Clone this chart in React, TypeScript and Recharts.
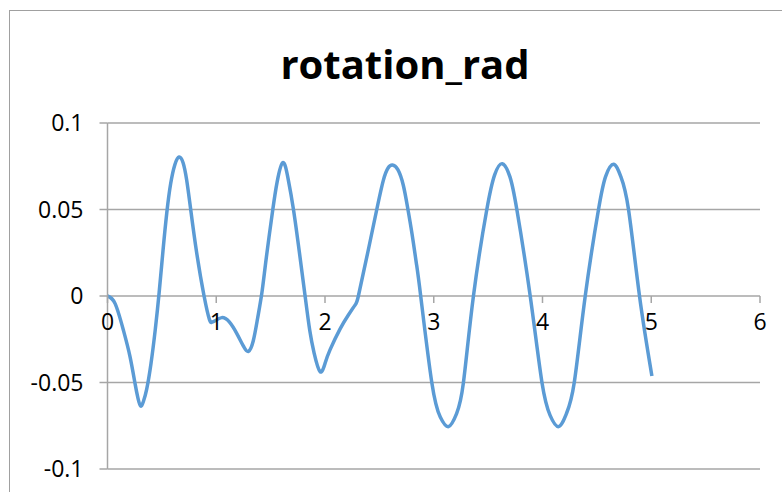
import { LineChart, Line, XAxis, YAxis, CartesianGrid } from "recharts";

// (time, rotation in rad)
const TIMES = [
  0, 0.07, 0.146, 0.207, 0.253, 0.28, 0.305, 0.33, 0.36, 0.4, 0.44, 0.475, 0.51, 0.545, 0.581, 0.62,
  0.658, 0.695, 0.728, 0.765, 0.82, 0.888, 0.937, 0.958, 0.985, 1.05, 1.12, 1.188, 1.25, 1.296, 1.34,
  1.38, 1.42, 1.46, 1.52, 1.56, 1.612, 1.66, 1.71, 1.765, 1.817, 1.86, 1.9, 1.955, 2.0, 2.047, 2.139,
  2.215, 2.277, 2.307, 2.385, 2.476, 2.537, 2.58, 2.62, 2.67, 2.72, 2.76, 2.8, 2.84, 2.88, 2.982,
  3.06, 3.136, 3.21, 3.273, 3.365, 3.488, 3.56, 3.63, 3.7, 3.764, 3.887, 3.995, 4.07, 4.148, 4.22,
  4.292, 4.393, 4.515, 4.58, 4.653, 4.72, 4.791, 4.892, 5.006,
];
const ROTATION = [
  0, -0.0044, -0.0197, -0.035, -0.0505, -0.059, -0.0636, -0.061, -0.054, -0.039, -0.019, 0.002, 0.026, 0.048, 0.065, 0.076,
  0.0803, 0.077, 0.067, 0.05, 0.025, 0, -0.0135, -0.0152, -0.0145, -0.0125, -0.015, -0.0216, -0.029, -0.032, -0.026,
  -0.013, 0.002, 0.022, 0.05, 0.066, 0.0771, 0.068, 0.05, 0.025, 0, -0.02, -0.033, -0.0437, -0.039, -0.031, -0.019,
  -0.011, -0.0052, 0, 0.0227, 0.05, 0.067, 0.074, 0.0757, 0.073, 0.064, 0.051, 0.036, 0.019, 0, -0.05,
  -0.07, -0.0755, -0.068, -0.05, 0, 0.05, 0.07, 0.0765, 0.069, 0.05, 0, -0.05, -0.069, -0.0755, -0.068,
  -0.05, 0, 0.05, 0.069, 0.0761, 0.069, 0.05, 0, -0.0462,
];
const X_TICKS = [0, 1, 2, 3, 4, 5, 6];
const Y_TICKS = [-0.1, -0.05, 0, 0.05, 0.1];

const data = TIMES.map((t, i) => ({ t, rot: ROTATION[i] }));

const PLOT_TOP = 123;
const PLOT_H = 346;
const GRID = "#a6a6a6";
const FONT = "'Open Sans', sans-serif";

// x axis crosses at y = 0, so ticks are drawn half a plot up
function ZeroAxisTick(props: any) {
  const { x, y, payload } = props;
  const y0 = y - PLOT_H / 2;
  return (
    <g>
      <line x1={x} x2={x} y1={y0} y2={y0 + 7} stroke={GRID} strokeWidth={1.5} />
      <text x={x} y={y0 + 34} textAnchor="middle" fill="#000" fontSize={23} fontFamily={FONT}>
        {payload.value}
      </text>
    </g>
  );
}

export default function App() {
  return (
    <div
      style={{
        position: "absolute",
        left: 0,
        top: 0,
        width: 782,
        height: 492,
        overflow: "hidden",
        background: "#fff",
        fontFamily: FONT,
      }}
    >
      <div
        style={{
          position: "absolute",
          left: 9,
          top: 10,
          width: 900,
          height: 600,
          border: "1.5px solid #a0a0a0",
        }}
      />
      <div
        style={{
          position: "absolute",
          left: 205,
          top: 44,
          width: 400,
          textAlign: "center",
          fontSize: 40,
          lineHeight: "40px",
          fontWeight: 700,
          color: "#000",
        }}
      >
        rotation_rad
      </div>
      <div style={{ position: "absolute", left: 0, top: 0 }}>
        <LineChart
          width={782}
          height={492}
          data={data}
          margin={{ top: PLOT_TOP, right: 22, bottom: 3, left: 7.5 }}
        >
          <CartesianGrid vertical={false} stroke={GRID} strokeWidth={1.5} />
          <XAxis
            dataKey="t"
            type="number"
            domain={[0, 6]}
            ticks={X_TICKS}
            axisLine={false}
            tickLine={false}
            tickSize={0}
            tickMargin={0}
            height={20}
            tick={(p: any) => <ZeroAxisTick {...p} />}
            interval={0}
          />
          <YAxis
            type="number"
            domain={[-0.1, 0.1]}
            ticks={Y_TICKS}
            width={100}
            axisLine={{ stroke: GRID, strokeWidth: 1.5 }}
            tickLine={{ stroke: GRID, strokeWidth: 1.5 }}
            tickSize={8}
            tickMargin={16}
            tick={{ fill: "#000", fontSize: 23, fontFamily: FONT }}
            interval={0}
          />
          <Line
            type="natural"
            dataKey="rot"
            stroke="#5b9bd5"
            strokeWidth={3.5}
            dot={false}
            isAnimationActive={false}
          />
        </LineChart>
      </div>
    </div>
  );
}
